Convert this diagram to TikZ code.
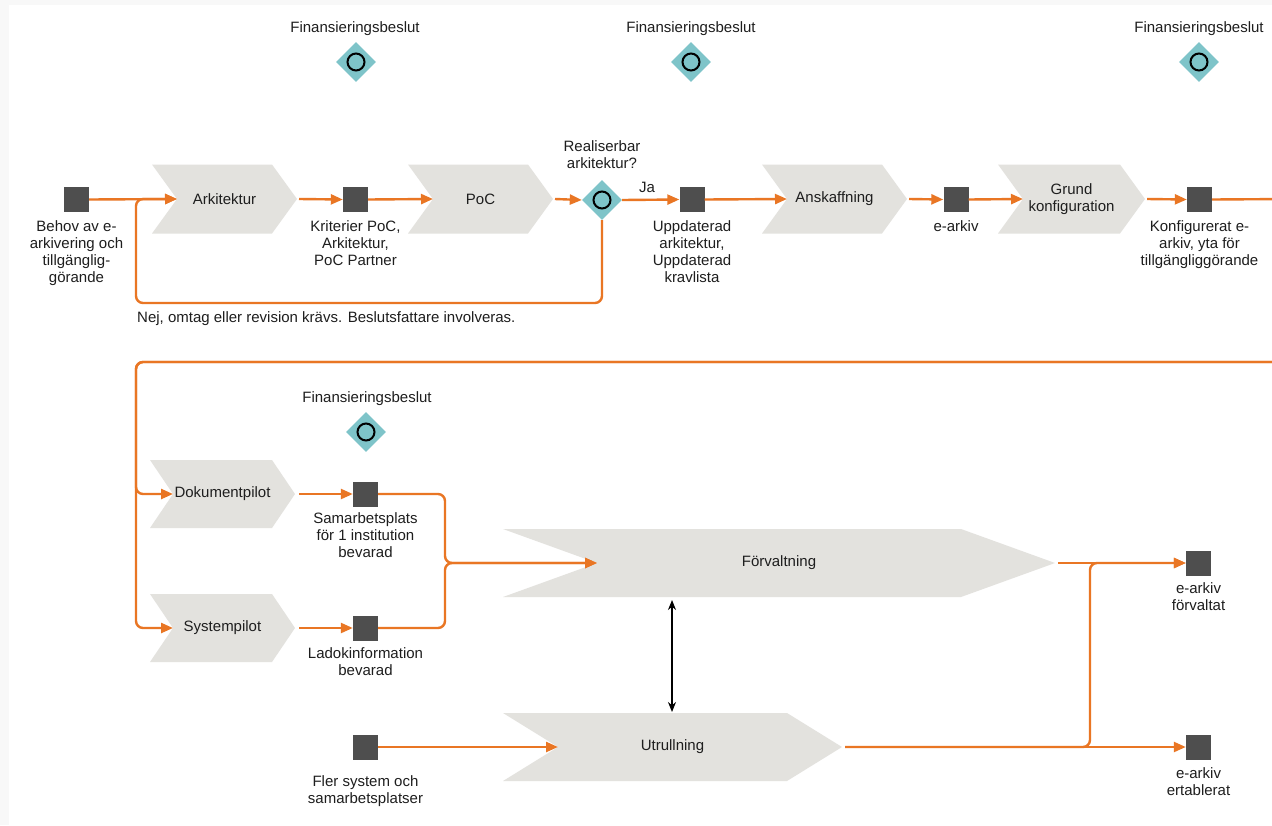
\documentclass[tikz,border=0pt]{standalone}
\usepackage{fontspec}
\setmainfont{Liberation Sans}
\usetikzlibrary{arrows.meta,shapes.geometric}

\definecolor{flowor}{RGB}{233,118,36}
\definecolor{stepgray}{RGB}{227,226,222}
\definecolor{docgray}{RGB}{78,78,78}
\definecolor{gateteal}{RGB}{126,196,201}
\definecolor{ink}{RGB}{30,30,30}
\definecolor{pagerim}{RGB}{248,248,248}

% process step drawn as a chevron: name, left x, point x, centre y, notch depth, half height, text
\newcommand\procstep[7]{%
  \fill[stepgray] (#2,#4-#6) -- (#3-#5,#4-#6) -- (#3,#4) -- (#3-#5,#4+#6)
     -- (#2,#4+#6) -- (#2+#5,#4) -- cycle;
  \coordinate (#1-in) at (#2+#5,#4);
  \coordinate (#1-out) at (#3,#4);
  \node[steptext] (#1) at ({(#2+#3)/2},#4) {#7};
}

\begin{document}
\begin{tikzpicture}[x=1pt,y=-1pt,
  txt/.style={font=\fontsize{15}{17}\selectfont, text=ink, align=center, inner sep=0pt},
  lbl/.style={txt, anchor=north},
  steptext/.style={txt},
  docobj/.style={rectangle, fill=docgray, minimum size=25pt, inner sep=0pt},
  gate/.style={diamond, fill=gateteal, minimum width=40pt, minimum height=40pt, inner sep=0pt},
  ring/.style={circle, draw=black, line width=2pt, minimum size=17pt, inner sep=0pt},
  flowarrow/.style={draw=flowor, line width=2.4pt, rounded corners=7pt, -{Triangle[length=12pt,width=10pt]}},
  flowplain/.style={draw=flowor, line width=2.4pt, rounded corners=7pt},
  linkarrow/.style={draw=black, line width=1.3pt, {Stealth[length=10pt,width=8pt]}-{Stealth[length=10pt,width=8pt]}}
]
\useasboundingbox (0,0) rectangle (1272,825);
\clip (0,0) rectangle (1272,825);
\fill[pagerim] (0,0) rectangle (1272,825);
\fill[white] (9,5) rectangle (1272,825);

% ---------- funding decisions ----------
\node[gate] (fin1) at (356,62) {};
\node[ring] (fin1r) at (fin1) {};
\node[lbl] (fin1t) at (355,21) {Finansieringsbeslut};
\node[gate] (fin2) at (691,62) {};
\node[ring] (fin2r) at (fin2) {};
\node[lbl] (fin2t) at (691,21) {Finansieringsbeslut};
\node[gate] (fin3) at (1199,62) {};
\node[ring] (fin3r) at (fin3) {};
\node[lbl] (fin3t) at (1199,21) {Finansieringsbeslut};
\node[gate] (fin4) at (366,432) {};
\node[ring] (fin4r) at (fin4) {};
\node[lbl] (fin4t) at (367,391) {Finansieringsbeslut};

% ---------- upper row ----------
\procstep{ark}{152}{297}{199}{25}{34.5}{Arkitektur}
\procstep{poc}{408}{553}{199}{25}{34.5}{PoC}
\procstep{ansk}{762}{907}{199}{25}{34.5}{Anskaffning}
\procstep{grund}{998}{1145}{199}{25}{34.5}{Grund\\konfiguration}

\node[docobj] (sq1) at (76.5,199.5) {};
\node[lbl] (sq1t) at (76.5,220) {Behov av e-\\arkivering och\\tillgänglig-\\görande};
\node[docobj] (sq2) at (355.5,199.5) {};
\node[lbl] (sq2t) at (355.5,220) {Kriterier PoC,\\Arkitektur,\\PoC Partner};
\node[docobj] (sq3) at (692,199.5) {};
\node[lbl] (sq3t) at (692,220) {Uppdaterad\\arkitektur,\\Uppdaterad\\kravlista};
\node[docobj] (sq4) at (956,199.5) {};
\node[lbl] (sq4t) at (956,220) {e-arkiv};
\node[docobj] (sq5) at (1199.5,199.5) {};
\node[lbl] (sq5t) at (1199.5,220) {Konfigurerat e-\\arkiv, yta för\\tillgängliggörande};

\node[gate] (real) at (602,200) {};
\node[ring] (realr) at (real) {};
\node[lbl] (realt) at (602,140) {Realiserbar\\arkitektur?};
\node[txt, anchor=base] (ja) at (647,192) {Ja};
\node[txt, anchor=base west] (nej) at (137,322) {Nej, omtag eller revision krävs. Beslutsfattare involveras.};

\draw[flowarrow] (sq1.east) -- (ark-in);
\draw[flowarrow] ([xshift=2pt]ark-out) -- (sq2.west);
\draw[flowarrow] (sq2.east) -- (poc-in);
\draw[flowarrow] ([xshift=2pt]poc-out) -- (real.west);
\draw[flowarrow] (real.east) -- (sq3.west);
\draw[flowarrow] (sq3.east) -- (ansk-in);
\draw[flowarrow] ([xshift=2pt]ansk-out) -- (sq4.west);
\draw[flowarrow] (sq4.east) -- (grund-in);
\draw[flowarrow] ([xshift=2pt]grund-out) -- (sq5.west);
\draw[flowarrow] (real.south) -- (602,303) -- (136,303) -- (136,199) -- (ark-in);

\coordinate (wrapA) at (1290,199);
\coordinate (wrapB) at (1290,362);
\draw[flowplain] (sq5.east) -- (wrapA);

% ---------- lower part ----------
\procstep{dok}{150}{295}{494}{23}{34}{Dokumentpilot}
\procstep{sys}{150}{295}{628}{23}{34}{Systempilot}
\procstep{forv}{503}{1055}{563}{94}{34}{Förvaltning}
\procstep{utr}{503}{842}{747}{55}{34}{Utrullning}

\node[docobj] (sqdok) at (365.5,494) {};
\node[lbl] (sqdokt) at (365.5,512) {Samarbetsplats\\för 1 institution\\bevarad};
\node[docobj] (sqsys) at (365.5,628) {};
\node[lbl] (sqsyst) at (365.5,647) {Ladokinformation\\bevarad};
\node[docobj] (sqfler) at (365.5,747) {};
\node[lbl] (sqflert) at (365.5,775) {Fler system och\\samarbetsplatser};
\node[docobj] (sqforv) at (1198.5,563) {};
\node[lbl] (sqforvt) at (1198.5,582) {e-arkiv\\förvaltat};
\node[docobj] (sqert) at (1198.5,747) {};
\node[lbl] (sqertt) at (1198.5,767) {e-arkiv\\ertablerat};

\draw[flowarrow] (wrapB) -- (136,362) -- (136,628) -- (sys-in);
\draw[flowarrow] (wrapB) -- (136,362) -- (136,494) -- (dok-in);
\draw[flowarrow] ([xshift=4pt]dok-out) -- (sqdok.west);
\draw[flowarrow] ([xshift=4pt]sys-out) -- (sqsys.west);
\draw[flowarrow] (sqdok.east) -- (445,494) -- (445,563) -- (forv-in);
\draw[flowarrow] (sqsys.east) -- (445,628) -- (445,563) -- (forv-in);
\draw[flowarrow] (sqfler.east) -- (utr-in);
\draw[flowarrow] ([xshift=3pt]forv-out) -- (sqforv.west);
\draw[flowarrow] ([xshift=3pt]utr-out) -- (sqert.west);
\draw[flowarrow] ([xshift=3pt]utr-out) -- (1090,747) -- (1090,563) -- (sqforv.west);

\coordinate (forvlow) at (672,600);
\coordinate (utrhigh) at (672,712);
\draw[linkarrow] (forvlow) -- (utrhigh);
\end{tikzpicture}
\end{document}
